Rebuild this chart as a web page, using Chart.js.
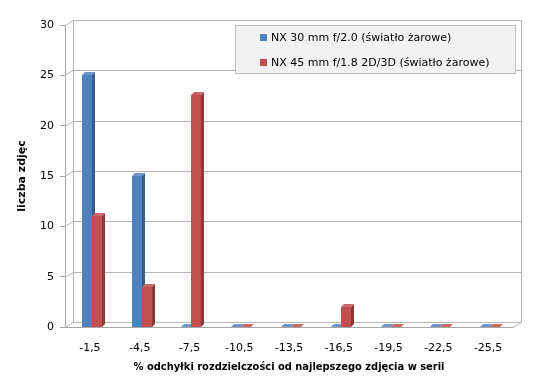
<!DOCTYPE html>
<html>
<head>
<meta charset="utf-8">
<script src="https://cdn.jsdelivr.net/npm/chart.js@4.4.0/dist/chart.umd.min.js"></script>
<style>
  html, body { margin: 0; padding: 0; background: #ffffff; }
  #chart { display: block; }
</style>
</head>
<body>
<canvas id="chart" width="550" height="390"></canvas>
<script>
// chart data
const categories = ['-1,5', '-4,5', '-7,5', '-10,5', '-13,5', '-16,5', '-19,5', '-22,5', '-25,5'];
const seriesNames = ['NX 30 mm f/2.0 (światło żarowe)', 'NX 45 mm f/1.8 2D/3D (światło żarowe)'];
const nx30 = [25, 15, 0, 0, 0, 0, 0, 0, 0];
const nx45 = [11, 4, 23, 0, 0, 2, 0, 0, 0];
const yMax = 30;
const yStep = 5;
const xTitle = '% odchyłki rozdzielczości od najlepszego zdjęcia w serii';
const yTitle = 'liczba zdjęc';

const colors = ['#4f81bd', '#c0504d'];
const sideColors = ['#385d8a', '#8c3836'];
const topColors = ['#6d95c6', '#c96966'];

const FONT = '"DejaVu Sans", Verdana, sans-serif';
const WALL_DX = 8, WALL_DY = -5;   // depth of the back wall
const BAR_DX = 3, BAR_DY = -3;     // depth of each bar
const BAR_SHIFT = 2;               // bars sit a bit into the depth

// back wall, left wall, floor and the 3d bars
const wallPlugin = {
  id: 'wall',
  beforeDatasetsDraw(chart) {
    const ctx = chart.ctx;
    const y = chart.scales.y;
    const a = chart.chartArea;
    ctx.save();
    ctx.strokeStyle = '#b5b5b5';
    ctx.lineWidth = 1;
    for (let v = 0; v <= yMax; v += yStep) {
      const py = Math.round(y.getPixelForValue(v)) + 0.5;
      ctx.beginPath();
      ctx.moveTo(a.left, py);
      ctx.lineTo(a.left + WALL_DX, py + WALL_DY);
      ctx.lineTo(a.right + WALL_DX, py + WALL_DY);
      ctx.stroke();
    }
    const top = Math.round(y.getPixelForValue(yMax)) + 0.5 + WALL_DY;
    const bot = Math.round(y.getPixelForValue(0)) + 0.5;
    ctx.beginPath();
    ctx.moveTo(a.left + WALL_DX + 0.5, top);
    ctx.lineTo(a.left + WALL_DX + 0.5, bot + WALL_DY);
    ctx.moveTo(a.right + WALL_DX + 0.5, top);
    ctx.lineTo(a.right + WALL_DX + 0.5, bot + WALL_DY);
    ctx.lineTo(a.right, bot);
    ctx.stroke();
    ctx.restore();
  },
  afterDatasetsDraw(chart) {
    // front, side and top faces, series by series per category
    const ctx = chart.ctx;
    const metas = [chart.getDatasetMeta(0), chart.getDatasetMeta(1)];
    ctx.save();
    for (let c = 0; c < categories.length; c++) {
      metas.forEach((meta, i) => {
        const bar = meta.data[c];
        const { x, y, base, width } = bar.getProps(['x', 'y', 'base', 'width'], true);
        const l = Math.round(x - width / 2) + BAR_SHIFT;
        const r = Math.round(x + width / 2) + BAR_SHIFT;
        const t = Math.round(y), b = Math.round(base);
        ctx.fillStyle = colors[i];
        ctx.fillRect(l, t, r - l, b - t);
        ctx.fillStyle = sideColors[i];
        ctx.beginPath();
        ctx.moveTo(r, t);
        ctx.lineTo(r + BAR_DX, t + BAR_DY);
        ctx.lineTo(r + BAR_DX, b + BAR_DY);
        ctx.lineTo(r, b);
        ctx.closePath();
        ctx.fill();
        ctx.fillStyle = topColors[i];
        ctx.beginPath();
        ctx.moveTo(l, t);
        ctx.lineTo(l + BAR_DX, t + BAR_DY);
        ctx.lineTo(r + BAR_DX, t + BAR_DY);
        ctx.lineTo(r, t);
        ctx.closePath();
        ctx.fill();
      });
    }
    ctx.restore();
  },
  afterDraw(chart) {
    // legend box
    const ctx = chart.ctx;
    ctx.save();
    ctx.fillStyle = '#f2f2f2';
    ctx.fillRect(235, 25, 280, 48);
    ctx.strokeStyle = '#bfbfbf';
    ctx.strokeRect(235.5, 25.5, 280, 48);
    ctx.font = '11px ' + FONT;
    ctx.textBaseline = 'middle';
    seriesNames.forEach((name, k) => {
      const cy = 37 + k * 25;
      ctx.fillStyle = colors[k];
      ctx.fillRect(260, cy - 3, 7, 7);
      ctx.fillStyle = '#000000';
      ctx.fillText(name, 271, cy + 1);
    });
    ctx.restore();
  }
};

new Chart(document.getElementById('chart'), {
  type: 'bar',
  data: {
    labels: categories,
    datasets: [
      { label: seriesNames[0], data: nx30, backgroundColor: 'rgba(0,0,0,0)' },
      { label: seriesNames[1], data: nx45, backgroundColor: 'rgba(0,0,0,0)' }
    ]
  },
  options: {
    responsive: false,
    animation: false,
    devicePixelRatio: 1,
    layout: { padding: { top: 25, right: 37, left: 0, bottom: 12 } },
    datasets: { bar: { barPercentage: 1, categoryPercentage: 0.4 } },
    plugins: { legend: { display: false }, tooltip: { enabled: false } },
    scales: {
      x: {
        grid: { display: true, drawOnChartArea: false, drawTicks: false },
        border: { display: true, color: '#a6a6a6' },
        ticks: { color: '#000000', font: { family: FONT, size: 11 }, padding: 15 },
        title: { display: true, text: xTitle, color: '#000000', font: { family: '"DejaVu Sans Condensed", "DejaVu Sans", sans-serif', size: 11, weight: 'bold' }, padding: { top: 6 } },
        afterFit(scale) { scale.height = 51; }
      },
      y: {
        min: 0,
        max: yMax,
        ticks: { stepSize: yStep, color: '#000000', font: { family: FONT, size: 11 }, padding: 6 },
        grid: { drawOnChartArea: false, drawTicks: true, tickLength: 5, color: '#a6a6a6' },
        border: { display: true, color: '#a6a6a6' },
        title: { display: true, text: yTitle, color: '#000000', font: { family: FONT, size: 11, weight: 'bold' }, padding: { top: 16 } },
        afterFit(scale) { scale.width = 65; }
      }
    }
  },
  plugins: [wallPlugin]
});
</script>
</body>
</html>
